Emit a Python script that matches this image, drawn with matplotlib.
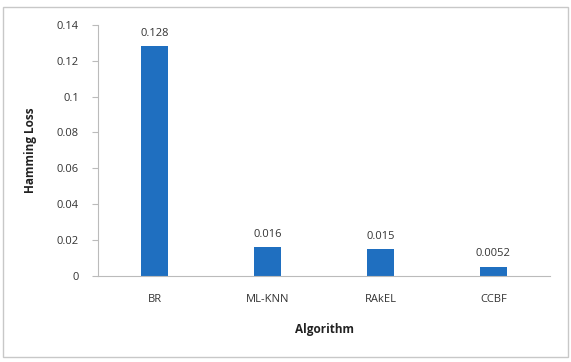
import numpy as np
import matplotlib.pyplot as plt
from matplotlib.patches import Rectangle

algorithms = ["BR", "ML-KNN", "RAkEL", "CCBF"]
hamming_loss = [0.128, 0.016, 0.015, 0.0052]
value_labels = ["0.128", "0.016", "0.015", "0.0052"]
y_ticks = [0, 0.02, 0.04, 0.06, 0.08, 0.1, 0.12, 0.14]
y_tick_labels = ["0", "0.02", "0.04", "0.06", "0.08", "0.1", "0.12", "0.14"]

plt.rcParams['font.family'] = ['Open Sans', 'DejaVu Sans']

fig = plt.figure(figsize=(5.71, 3.62), dpi=100)
ax = fig.add_axes([0.172, 0.238, 0.791, 0.693])

x = np.arange(len(algorithms))
ax.bar(x, hamming_loss, width=0.24, color="#1f6fc0")
for xi, v, lab in zip(x, hamming_loss, value_labels):
    ax.text(xi, v + 0.004, lab, ha="center", va="bottom", fontsize=8, color="#333333")

ax.set_xlim(-0.5, len(algorithms) - 0.5)
ax.set_ylim(0, 0.14)
ax.set_yticks(y_ticks)
ax.set_yticklabels(y_tick_labels, fontsize=8, color="#333333")
ax.set_xticks(x)
ax.set_xticklabels(algorithms, fontsize=8, color="#333333")
ax.tick_params(axis="x", length=0, pad=13)
ax.tick_params(axis="y", length=4, color="#bbbbbb", pad=10)

for s in ["top", "right"]:
    ax.spines[s].set_visible(False)
ax.spines["left"].set_color("#bbbbbb")
ax.spines["bottom"].set_color("#bbbbbb")

ax.set_xlabel("Algorithm", fontsize=8.5, fontweight="bold", labelpad=13, color="#222222")
ax.set_ylabel("Hamming Loss", fontsize=8.5, fontweight="bold", labelpad=14, color="#222222")

# outer chart border
fig.patches.append(Rectangle((0.006, 0.015), 0.988, 0.965, transform=fig.transFigure,
                             fill=False, edgecolor="#c8c8c8", linewidth=1))

fig.savefig("out.png", dpi=100, facecolor="white")
